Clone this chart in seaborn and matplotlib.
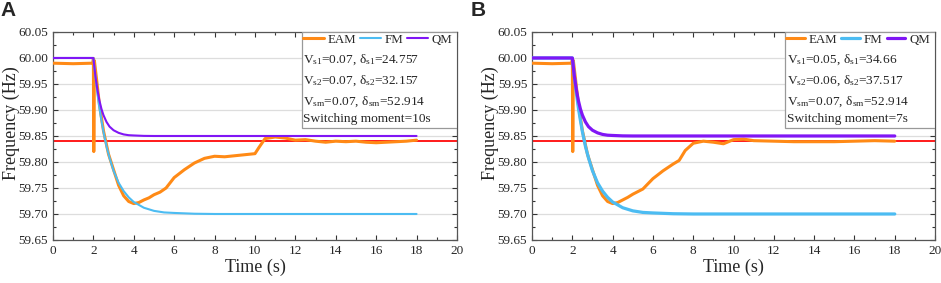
import matplotlib
matplotlib.use("Agg")
import matplotlib.pyplot as plt
import seaborn as sns
from matplotlib.ticker import MultipleLocator, FormatStrFormatter
from matplotlib.patches import Rectangle

# FM / QM reference curves (shared by both panels)
t_model = [0, 2, 2.1, 2.2, 2.3, 2.4, 2.5, 2.65, 2.8, 3.0, 3.25, 3.5, 3.75,
           4.0, 4.5, 5.0, 5.5, 6.0, 7.0, 8.0, 18]
fm = [60.000, 60.000, 59.964, 59.932, 59.904, 59.880, 59.858, 59.830, 59.808,
      59.783, 59.760, 59.744, 59.732, 59.723, 59.712, 59.706, 59.703, 59.702,
      59.7005, 59.700, 59.700]
qm = [60.000, 60.000, 59.965, 59.939, 59.918, 59.902, 59.890, 59.877, 59.868,
      59.861, 59.856, 59.853, 59.8515, 59.851, 59.8502, 59.850, 59.850, 59.850,
      59.850, 59.850, 59.850]

# EAM measured response, panel A (switching at 10 s)
t_eam_a = [0, 1.0, 1.98, 2.0, 2.02, 2.05, 2.15, 2.3, 2.5, 2.75, 3.0, 3.25, 3.5,
           3.75, 4.0, 4.25, 4.5, 4.75, 5.0, 5.3, 5.6, 6.0, 6.5, 7.0, 7.5, 8.0,
           8.5, 9.0, 9.5, 10.0, 10.2, 10.5, 11.0, 11.5, 12.0, 12.5, 13.0, 13.5,
           14.0, 14.5, 15.0, 15.5, 16.0, 16.5, 17.0, 17.5, 18.0]
eam_a = [59.990, 59.989, 59.990, 59.999, 59.820, 59.995, 59.962, 59.910, 59.860,
         59.815, 59.785, 59.755, 59.735, 59.724, 59.720, 59.722, 59.727, 59.731,
         59.737, 59.742, 59.750, 59.770, 59.785, 59.798, 59.807, 59.811, 59.810,
         59.812, 59.814, 59.816, 59.828, 59.845, 59.848, 59.846, 59.842, 59.843,
         59.840, 59.838, 59.840, 59.839, 59.840, 59.838, 59.837, 59.838, 59.839,
         59.840, 59.842]

# EAM measured response, panel B (switching at 7 s)
t_eam_b = [0, 1.0, 1.98, 2.0, 2.02, 2.05, 2.15, 2.3, 2.5, 2.75, 3.0, 3.25, 3.5,
           3.75, 4.0, 4.25, 4.5, 4.75, 5.0, 5.5, 6.0, 6.5, 7.0, 7.3, 7.6, 8.0,
           8.5, 9.0, 9.5, 10.0, 10.5, 11.0, 12.0, 13.0, 14.0, 15.0, 16.0, 17.0,
           18.0]
eam_b = [59.990, 59.989, 59.990, 59.999, 59.820, 59.995, 59.962, 59.910, 59.860,
         59.815, 59.785, 59.755, 59.735, 59.724, 59.720, 59.722, 59.727, 59.732,
         59.738, 59.748, 59.768, 59.783, 59.796, 59.803, 59.822, 59.836, 59.840,
         59.838, 59.835, 59.843, 59.844, 59.841, 59.840, 59.839, 59.839, 59.839,
         59.840, 59.841, 59.840]

target = 59.84
panel_text = {
    "A": [r"V$_{\rm s1}$=0.07, δ$_{\rm s1}$=24.757",
          r"V$_{\rm s2}$=0.07, δ$_{\rm s2}$=32.157",
          r"V$_{\rm sm}$=0.07, δ$_{\rm sm}$=52.914",
          "Switching moment=10s"],
    "B": [r"V$_{\rm s1}$=0.05, δ$_{\rm s1}$=34.66",
          r"V$_{\rm s2}$=0.06, δ$_{\rm s2}$=37.517",
          r"V$_{\rm sm}$=0.07, δ$_{\rm sm}$=52.914",
          "Switching moment=7s"],
}

sns.set_style("ticks")
plt.rcParams["font.family"] = ["Liberation Serif", "DejaVu Serif"]
plt.rcParams["mathtext.fontset"] = "custom"
plt.rcParams["mathtext.rm"] = "Liberation Serif"
plt.rcParams["mathtext.it"] = "Liberation Serif:italic"

C_EAM = "#ff8a16"
C_FM = "#4cbcf2"
C_QM = "#8016f5"

fig = plt.figure(figsize=(9.41, 2.83), dpi=100)
ax_a = fig.add_axes([0.0563, 0.152, 0.4293, 0.735])
ax_b = fig.add_axes([0.5654, 0.152, 0.4283, 0.735])

# axes, name, EAM data, model line width, info box left edge, legend handle length
panels = [(ax_a, "A", t_eam_a, eam_a, 1.5, 0.616, 1.6),
          (ax_b, "B", t_eam_b, eam_b, 2.3, 0.628, 1.45)]

for ax, name, t_eam, eam, lw, box_x, hlen in panels:
    ax.axhline(target, color="#ff1a1a", lw=1.4, zorder=2)
    sns.lineplot(x=t_eam, y=eam, color=C_EAM, lw=2.2, ax=ax, label="EAM",
                 estimator=None, sort=False, zorder=3)
    sns.lineplot(x=t_model, y=fm, color=C_FM, lw=lw, ax=ax, label="FM",
                 estimator=None, zorder=4)
    sns.lineplot(x=t_model, y=qm, color=C_QM, lw=lw, ax=ax, label="QM",
                 estimator=None, zorder=4)

    ax.set_xlim(0, 20)
    ax.set_ylim(59.65, 60.05)
    ax.xaxis.set_major_locator(MultipleLocator(2))
    ax.xaxis.set_minor_locator(MultipleLocator(1))
    ax.yaxis.set_major_locator(MultipleLocator(0.05))
    ax.yaxis.set_minor_locator(MultipleLocator(0.025))
    ax.yaxis.set_major_formatter(FormatStrFormatter("%.2f"))
    ax.tick_params(which="both", direction="in", top=True, right=True,
                   labelsize=9.5, width=0.8, color="#333333")
    ax.tick_params(which="major", length=3.5)
    ax.tick_params(which="minor", length=2)
    ax.grid(axis="y", color="#dddddd", lw=0.9, zorder=0)
    for sp in ax.spines.values():
        sp.set_color("#555555")
        sp.set_linewidth(0.9)
    ax.set_xlabel("Time (s)", fontsize=13, labelpad=1)
    ax.set_ylabel("Frequency (Hz)", fontsize=13)
    ax.yaxis.set_label_coords(-0.082, 0.5625)

    # info box in the upper right corner
    ax.add_patch(Rectangle((box_x, 0.538), 1 - box_x, 0.462, transform=ax.transAxes,
                           facecolor="white", edgecolor="#999999", lw=0.9, zorder=5))
    leg = ax.legend(loc="center left", bbox_to_anchor=(box_x + 0.003, 0.962), ncol=3,
                    frameon=False, fontsize=9.3, handlelength=hlen, handletextpad=0.3,
                    columnspacing=0.3, borderaxespad=0, borderpad=0)
    leg.set_zorder(6)
    for i, line in enumerate(panel_text[name]):
        ax.text(box_x + 0.004, [0.868, 0.767, 0.666, 0.58][i], line,
                transform=ax.transAxes, fontsize=9.6, va="center", ha="left", zorder=6)

fig.text(0.001, 0.997, "A", fontsize=15, fontweight="bold", va="top",
         family="Liberation Sans")
fig.text(0.5005, 0.997, "B", fontsize=15, fontweight="bold", va="top",
         family="Liberation Sans")

fig.savefig("out.png", dpi=100)
plt.close(fig)
